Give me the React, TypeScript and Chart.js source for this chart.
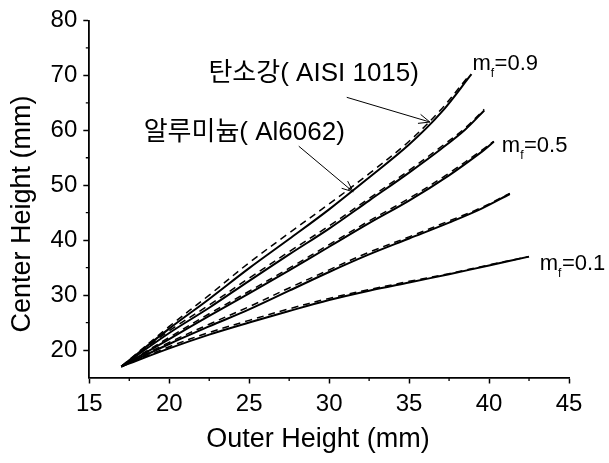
import React, { useEffect, useRef } from 'react';
import { Chart, registerables } from 'chart.js';

Chart.register(...registerables);

// Axis ticks
const xTicks = [15, 20, 25, 30, 35, 40, 45];
const yTicks = [20, 30, 40, 50, 60, 70, 80];
const xMinor = [17.5, 22.5, 27.5, 32.5, 37.5, 42.5];
const yMinor = [25, 35, 45, 55, 65, 75];

// m_f = 0.9
const x09 = [17, 20, 22.5, 25, 27.5, 30, 32.5, 35, 37, 38.9];
const steel09 = [17, 23.9, 29.3, 34.9, 40.2, 45.6, 51.4, 57.4, 63.2, 70.2];
const xAl09 = [17, 20, 22.5, 25, 27.5, 30, 32.5, 35, 37, 38.7];
const al09 = [17, 24.3, 30.0, 35.9, 41.3, 46.6, 52.1, 58.0, 63.8, 69.8];

// m_f = 0.7
const x07 = [17, 20, 22.5, 25, 27.5, 30, 32.5, 35, 37, 38.5, 39.7];
const steel07 = [17, 23.1, 27.7, 32.6, 37.4, 42.1, 47.2, 52.3, 56.6, 60.1, 63.6];
const al07 = [17, 23.5, 28.2, 33.1, 37.9, 42.6, 47.6, 52.7, 57.0, 60.4, 63.8];

// m_f = 0.5
const x05 = [17, 20, 22.5, 25, 27.5, 30, 32.5, 35, 37.5, 39.6, 40.3];
const steel05 = [17, 22.0, 26.2, 30.3, 34.5, 38.8, 43.1, 47.2, 51.8, 56.2, 57.9];
const al05 = [17, 22.3, 26.6, 30.7, 34.9, 39.2, 43.5, 47.6, 52.2, 56.5, 58.0];

// m_f = 0.3
const x03 = [17, 20, 22.5, 25, 27.5, 30, 32.5, 35, 37.5, 39.5, 41.3];
const steel03 = [17, 21.1, 24.3, 27.4, 30.8, 34.2, 37.4, 40.3, 43.2, 45.7, 48.4];
const al03 = [17, 21.4, 24.7, 27.9, 31.3, 34.6, 37.8, 40.6, 43.5, 45.9, 48.5];

// m_f = 0.1
const x01 = [17, 20, 22.5, 25, 27.5, 30, 32.5, 35, 37.5, 40, 42.5];
const steel01 = [17, 20.3, 22.8, 25.0, 27.1, 29.1, 30.8, 32.3, 33.8, 35.4, 37.0];
const al01 = [17, 20.6, 23.2, 25.4, 27.5, 29.4, 31.0, 32.5, 33.9, 35.5, 37.0];

// Annotations (data coordinates)
const steelLabel = '탄소강( AISI 1015)';
const alLabel = '알루미늄( Al6062)';
const steelLabelAt = [22.45, 70.3];
const alLabelAt = [18.4, 59.5];
const steelArrow = [31.1, 66.0, 36.3, 61.5];
const alArrow = [28.1, 57.1, 31.5, 48.8];
const mfValues = ['0.9', '0.5', '0.1'];
const mfX = [38.96, 40.8, 43.17];
const mfY = [72.0, 57.1, 35.6];

const FAMILY = '"Liberation Sans", Arial, "Noto Sans CJK KR", sans-serif';

const pts = (xs: number[], ys: number[]) => xs.map((x, i) => ({ x, y: ys[i] }));

const solid = (xs: number[], ys: number[]) => ({
  data: pts(xs, ys),
  showLine: true,
  borderColor: '#000',
  borderWidth: 2,
  pointRadius: 0,
  tension: 0.35,
  fill: false,
});
const dashed = (xs: number[], ys: number[]) => ({
  data: pts(xs, ys),
  showLine: true,
  borderColor: '#000',
  borderWidth: 1.5,
  borderDash: [7, 5],
  pointRadius: 0,
  tension: 0.35,
  fill: false,
});

const annotationPlugin = {
  id: 'annot',
  afterDraw(chart: any) {
    const { ctx, scales } = chart;
    const x = scales.x;
    const y = scales.y;
    ctx.save();
    ctx.strokeStyle = '#000';
    ctx.fillStyle = '#000';
    // minor ticks
    ctx.lineWidth = 1.3;
    ctx.beginPath();
    xMinor.forEach((v) => {
      const px = x.getPixelForValue(v);
      ctx.moveTo(px, y.bottom);
      ctx.lineTo(px, y.bottom + 3.5);
    });
    yMinor.forEach((v) => {
      const py = y.getPixelForValue(v);
      ctx.moveTo(x.left, py);
      ctx.lineTo(x.left - 3.5, py);
    });
    ctx.stroke();

    // arrows
    const drawArrow = (a: number[]) => {
      const x0 = x.getPixelForValue(a[0]);
      const y0 = y.getPixelForValue(a[1]);
      const x1 = x.getPixelForValue(a[2]);
      const y1 = y.getPixelForValue(a[3]);
      ctx.lineWidth = 1;
      ctx.beginPath();
      ctx.moveTo(x0, y0);
      ctx.lineTo(x1, y1);
      const ang = Math.atan2(y1 - y0, x1 - x0);
      const L = 12;
      const s = 0.4;
      ctx.moveTo(x1, y1);
      ctx.lineTo(x1 - L * Math.cos(ang - s), y1 - L * Math.sin(ang - s));
      ctx.moveTo(x1, y1);
      ctx.lineTo(x1 - L * Math.cos(ang + s), y1 - L * Math.sin(ang + s));
      ctx.stroke();
    };
    drawArrow(steelArrow);
    drawArrow(alArrow);

    // labels
    ctx.textBaseline = 'middle';
    ctx.textAlign = 'left';
    ctx.font = `26px ${FAMILY}`;
    ctx.fillText(steelLabel, x.getPixelForValue(steelLabelAt[0]), y.getPixelForValue(steelLabelAt[1]));
    ctx.fillText(alLabel, x.getPixelForValue(alLabelAt[0]), y.getPixelForValue(alLabelAt[1]));

    mfValues.forEach((v, i) => {
      let px = x.getPixelForValue(mfX[i]);
      const py = y.getPixelForValue(mfY[i]);
      ctx.font = `22px ${FAMILY}`;
      ctx.fillText('m', px, py);
      px += ctx.measureText('m').width;
      ctx.font = `12px ${FAMILY}`;
      ctx.fillText('f', px, py + 9);
      px += ctx.measureText('f').width + 0.5;
      ctx.font = `22px ${FAMILY}`;
      ctx.fillText('=' + v, px, py);
    });
    ctx.restore();
  },
};

export default function App() {
  const ref = useRef<HTMLCanvasElement | null>(null);
  useEffect(() => {
    if (!ref.current) return;
    const chart = new Chart(ref.current, {
      type: 'scatter',
      data: {
        datasets: [
          dashed(xAl09, al09),
          solid(x09, steel09),
          dashed(x07, al07),
          solid(x07, steel07),
          dashed(x05, al05),
          solid(x05, steel05),
          dashed(x03, al03),
          solid(x03, steel03),
          dashed(x01, al01),
          solid(x01, steel01),
        ] as any,
      },
      options: {
        animation: false,
        responsive: false,
        devicePixelRatio: 1,
        layout: { padding: { top: 20, right: 40, left: 0, bottom: 0 } },
        plugins: { legend: { display: false }, tooltip: { enabled: false } },
        scales: {
          x: {
            type: 'linear',
            position: 'bottom',
            min: 15,
            max: 45,
            afterBuildTicks: (s: any) => {
              s.ticks = xTicks.map((v) => ({ value: v }));
            },
            afterFit: (s: any) => {
              s.height = 85.5;
            },
            ticks: {
              color: '#000',
              font: { size: 24, family: FAMILY },
              padding: 6,
              maxRotation: 0,
              autoSkip: false,
            },
            grid: {
              drawOnChartArea: false,
              drawTicks: true,
              tickLength: 6,
              tickColor: '#000',
              tickWidth: 1.5,
              color: '#000',
            },
            border: { display: true, color: '#000', width: 1.8 },
            title: {
              display: true,
              text: 'Outer Height (mm)   ',
              color: '#000',
              font: { size: 27, family: FAMILY },
              padding: { top: 0, bottom: 7 },
            },
          },
          y: {
            type: 'linear',
            min: 15,
            max: 80,
            afterBuildTicks: (s: any) => {
              s.ticks = yTicks.map((v) => ({ value: v }));
            },
            afterFit: (s: any) => {
              s.width = 89.3;
            },
            ticks: {
              color: '#000',
              font: { size: 24, family: FAMILY },
              padding: 6,
              autoSkip: false,
            },
            grid: {
              drawOnChartArea: false,
              drawTicks: true,
              tickLength: 6,
              tickColor: '#000',
              tickWidth: 1.5,
              color: '#000',
            },
            border: { display: true, color: '#000', width: 1.8 },
            title: {
              display: true,
              text: 'Center Height (mm)    ',
              color: '#000',
              font: { size: 27, family: FAMILY },
              padding: { top: 6, bottom: 0 },
            },
          },
        },
      } as any,
      plugins: [annotationPlugin],
    });
    return () => chart.destroy();
  }, []);
  return (
    <div style={{ position: 'absolute', left: 0, top: 0, width: 609, height: 463, background: '#fff' }}>
      <canvas ref={ref} width={609} height={463} style={{ display: 'block' }} />
    </div>
  );
}
